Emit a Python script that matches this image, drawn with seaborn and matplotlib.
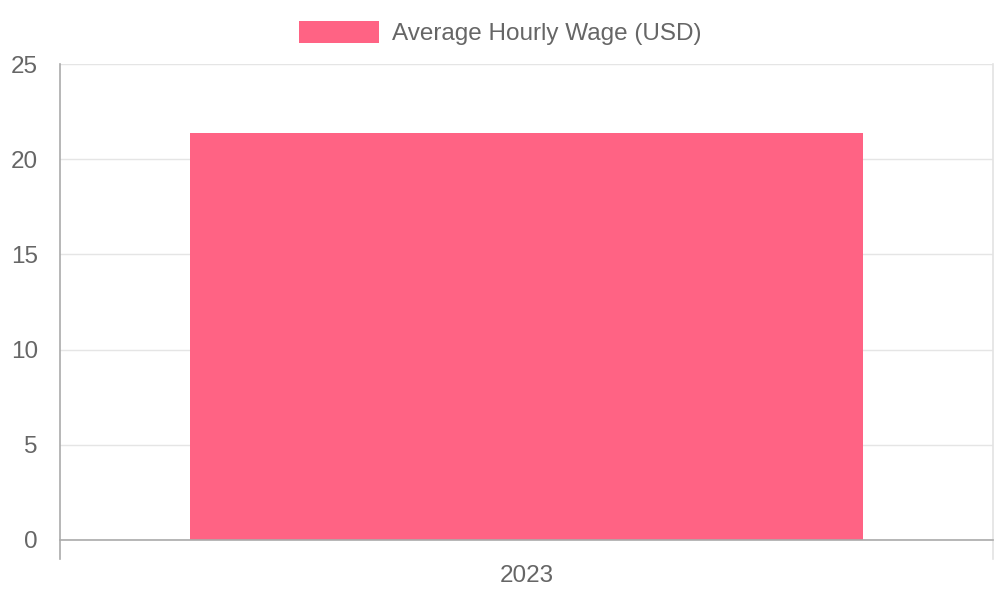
import pandas as pd
import seaborn as sns
import matplotlib.pyplot as plt

years = ['2023']
wages = [21.38]
series_label = 'Average Hourly Wage (USD)'

sns.set_style('white')
plt.rcParams['font.family'] = ['Liberation Sans', 'DejaVu Sans']

df = pd.DataFrame({'year': years, 'wage': wages})

fig = plt.figure(figsize=(10, 6), dpi=100)
ax = fig.add_axes([0.06, 0.1, 0.933, 0.7933])

sns.barplot(data=df, x='year', y='wage', color='#FF6384', saturation=1,
            width=0.722, label=series_label, linewidth=0, ax=ax)

ax.set_xlim(-0.5, 0.5)
ax.set_ylim(0, 25)
ax.set_yticks([0, 5, 10, 15, 20, 25])
ax.set_xlabel('')
ax.set_ylabel('')

# grid + axes styling
ax.yaxis.grid(True, color='#e5e5e5', linewidth=1)
ax.set_axisbelow(True)
ax.spines['top'].set_visible(False)
ax.spines['left'].set_color('#aaaaaa')
ax.spines['bottom'].set_color('#aaaaaa')
ax.spines['right'].set_color('#e3e3e3')
ax.spines['left'].set_bounds(-1.0, 25)
ax.spines['right'].set_bounds(-1.0, 25)
for s in ['left', 'bottom', 'right']:
    ax.spines[s].set_linewidth(1.2)

ax.tick_params(axis='y', length=7, color='#e5e5e5', width=1, pad=9,
               labelsize=17.5, labelcolor='#666666')
ax.tick_params(axis='x', length=0, pad=18, labelsize=17.5, labelcolor='#666666')

leg = ax.legend(loc='center', bbox_to_anchor=(0.5, 0.945), bbox_transform=fig.transFigure,
                frameon=False, fontsize=17.5, handlelength=3.3, handleheight=1.0,
                handletextpad=0.53, labelcolor='#666666')

fig.savefig('out.png', dpi=100)
